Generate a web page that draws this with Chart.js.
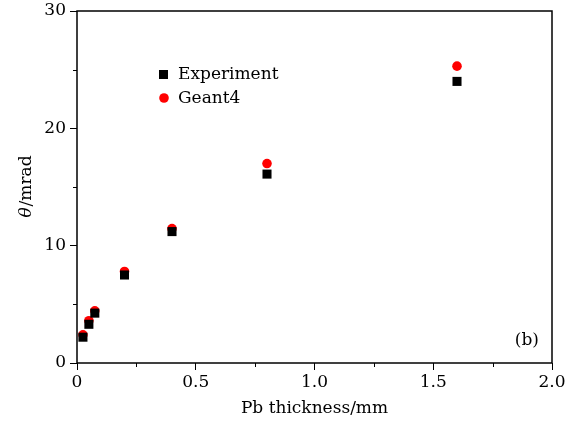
<!DOCTYPE html>
<html>
<head>
<meta charset="utf-8">
<script src="https://cdn.jsdelivr.net/npm/chart.js@4"></script>
<style>
  html, body { margin: 0; padding: 0; background: #fff; }
  #wrap { width: 574px; height: 423px; }
</style>
</head>
<body>
<div id="wrap"><canvas id="c" width="574" height="423"></canvas></div>
<script>
const thickness = [0.025, 0.05, 0.075, 0.2, 0.4, 0.8, 1.6];
const experiment = [2.2, 3.3, 4.25, 7.5, 11.2, 16.1, 24.0];
const geant4 = [2.4, 3.6, 4.45, 7.8, 11.45, 17.0, 25.3];
const xTickLabels = ["0", "0.5", "1.0", "1.5", "2.0"];
const yTickLabels = ["0", "10", "20", "30"];

const serif = "'DejaVu Serif', 'Liberation Serif', serif";
const fs = 17;

// frame, minor ticks, y title, legend and panel label
const extras = {
  id: "extras",
  afterDraw(chart) {
    const ctx = chart.ctx;
    const a = chart.chartArea;
    const xs = chart.scales.x, ys = chart.scales.y;
    ctx.save();
    ctx.strokeStyle = "#000";
    ctx.lineWidth = 1.5;
    ctx.strokeRect(a.left, a.top, a.right - a.left, a.bottom - a.top);

    ctx.lineWidth = 1;
    ctx.beginPath();
    for (let v = 0.25; v < 2; v += 0.5) {
      const px = Math.round(xs.getPixelForValue(v)) + 0.5;
      ctx.moveTo(px, a.bottom);
      ctx.lineTo(px, a.bottom + 4);
    }
    for (let v = 5; v < 30; v += 10) {
      const py = Math.round(ys.getPixelForValue(v)) + 0.5;
      ctx.moveTo(a.left, py);
      ctx.lineTo(a.left - 4, py);
    }
    ctx.stroke();

    // y title with italic theta
    ctx.fillStyle = "#000";
    ctx.textBaseline = "middle";
    ctx.translate(27, (a.top + a.bottom) / 2);
    ctx.rotate(-Math.PI / 2);
    ctx.font = "italic " + fs + "px " + serif;
    const w1 = ctx.measureText("θ").width;
    ctx.font = fs + "px " + serif;
    const w2 = ctx.measureText("/mrad").width;
    ctx.textAlign = "left";
    ctx.font = "italic " + fs + "px " + serif;
    ctx.fillText("θ", -(w1 + w2) / 2, 0);
    ctx.font = fs + "px " + serif;
    ctx.fillText("/mrad", -(w1 + w2) / 2 + w1 + 1, 0);
    ctx.setTransform(1, 0, 0, 1, 0, 0);

    // legend
    ctx.font = fs + "px " + serif;
    ctx.textAlign = "left";
    ctx.fillStyle = "#000";
    ctx.fillRect(159, 70, 9, 9);
    ctx.fillText("Experiment", 178, 75);
    ctx.fillStyle = "#ff0000";
    ctx.beginPath();
    ctx.arc(164, 98, 4.8, 0, Math.PI * 2);
    ctx.fill();
    ctx.fillStyle = "#000";
    ctx.fillText("Geant4", 178, 99);

    ctx.textAlign = "right";
    ctx.fillText("(b)", a.right - 13, a.bottom - 22);
    ctx.restore();
  }
};

new Chart(document.getElementById("c"), {
  type: "scatter",
  data: {
    datasets: [
      {
        label: "Experiment",
        data: thickness.map((x, i) => ({ x: x, y: experiment[i] })),
        pointStyle: "rect",
        pointRadius: 6.4,
        backgroundColor: "#000",
        borderWidth: 0,
      },
      {
        label: "Geant4",
        data: thickness.map((x, i) => ({ x: x, y: geant4[i] })),
        pointStyle: "circle",
        pointRadius: 4.8,
        backgroundColor: "#ff0000",
        borderWidth: 0,
      },
    ],
  },
  options: {
    responsive: false,
    animation: false,
    layout: { padding: { top: 11, right: 22, left: 0, bottom: 0 } },
    plugins: {
      legend: { display: false },
      tooltip: { enabled: false },
    },
    scales: {
      x: {
        type: "linear",
        min: 0,
        max: 2,
        afterFit(s) { s.height = 60; s.paddingLeft = 0; s.paddingRight = 0; },
        ticks: {
          stepSize: 0.5,
          color: "#000",
          font: { family: serif, size: fs },
          padding: 2,
          maxRotation: 0,
          callback: (v, i) => xTickLabels[i],
        },
        grid: { drawOnChartArea: false, color: "#000", tickLength: 7, lineWidth: 1 },
        border: { display: false },
        title: {
          display: true,
          text: "Pb thickness/mm",
          color: "#000",
          font: { family: serif, size: fs },
          padding: { top: 2 },
        },
      },
      y: {
        min: 0,
        max: 30,
        afterFit(s) { s.width = 77; s.paddingTop = 0; s.paddingBottom = 0; },
        ticks: {
          stepSize: 10,
          color: "#000",
          font: { family: serif, size: fs },
          padding: 4,
          callback: (v, i) => yTickLabels[i],
        },
        grid: { drawOnChartArea: false, color: "#000", tickLength: 7, lineWidth: 1 },
        border: { display: false },
      },
    },
  },
  plugins: [extras],
});
</script>
</body>
</html>
